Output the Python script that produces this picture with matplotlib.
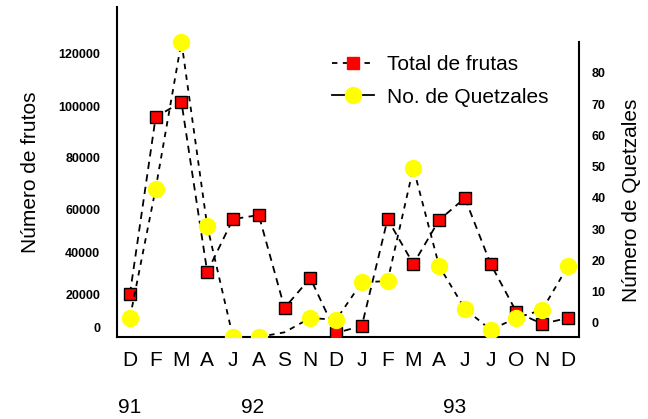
import numpy as np
import matplotlib
matplotlib.use('Agg')
import matplotlib.pyplot as plt
from matplotlib.lines import Line2D

plt.rcParams['font.family'] = ['Liberation Sans', 'DejaVu Sans']

# Month labels along the x axis (Dec 1991 - Dec 1993)
months = ['D', 'F', 'M', 'A', 'J', 'A', 'S', 'N', 'D',
          'J', 'F', 'M', 'A', 'J', 'J', 'O', 'N', 'D']
years = ['91', '92', '93']
year_pos = [0, 4.75, 12.6]

# Total de frutas (left axis)
frutas = [20000, 95700, 101500, 30500, 55300, 57200, 11800, 27600, -2900,
          1200, 55300, 34300, 54900, 64200, 34300, 9400, 2400, 5900]
# No. de Quetzales (right axis)
quetzales = [1.6, 43, 90, 31, -4.5, -4.5, -3, 1.6, 1.0,
             13, 13.4, 49.6, 18.2, 4.5, -2.2, 1.6, 4.2, 18.2]
quetzal_markers = [0, 1, 2, 3, 4, 5, 7, 8, 9, 10, 11, 12, 13, 14, 15, 16, 17]

# left axis tick values and the uneven spacing they have in the original
left_ticks = [0, 20000, 40000, 60000, 80000, 100000, 120000]
left_heights = [0, 34, 76, 119, 171, 222, 275]
right_ticks = [0, 10, 20, 30, 40, 50, 60, 70, 80]

tv = [-20000] + left_ticks + [140000]
th = [-34] + left_heights + [328]


def fwd(v):
    return np.interp(v, tv, th)


def inv(h):
    return np.interp(h, th, tv)


x = np.arange(len(months))

fig = plt.figure(figsize=(6.48, 4.19), dpi=100)
ax = fig.add_axes([0.1806, 0.1957, 0.7130, 0.7876])
ax.set_yscale('function', functions=(fwd, inv))

ax.plot(x, frutas, color='black', lw=1.3, ls=(0, (4, 3)),
        marker='s', ms=9, mfc='red', mec='black', mew=1, zorder=3)

ax.set_xlim(-0.5, 17.43)
ax.set_ylim(-5300, 137400)
ax.set_yticks(left_ticks)
ax.set_yticklabels([str(v) for v in left_ticks])
ax.set_xticks(x)
ax.set_xticklabels(months)
ax.tick_params(axis='y', length=0, pad=12, labelsize=9)
ax.tick_params(axis='x', length=0, pad=10, labelsize=15)
for lab in ax.get_yticklabels():
    lab.set_fontweight('bold')
ax.spines['top'].set_visible(False)
ax.spines['right'].set_visible(False)
ax.spines['left'].set_linewidth(1.5)
ax.spines['bottom'].set_linewidth(1.5)
ax.set_ylabel('Número de frutos', fontsize=15, labelpad=13)

for yr, p in zip(years, year_pos):
    ax.text(p, -0.215, yr, transform=ax.get_xaxis_transform(),
            ha='center', va='center', fontsize=15)

ax2 = ax.twinx()
ax2.plot(x, quetzales, color='black', lw=1.3, ls=(0, (3, 3)),
         marker='o', ms=11.5, mfc='yellow', mec='yellow',
         markevery=quetzal_markers, zorder=3)
ax2.set_ylim(-4.5, 101.1)
ax2.set_yticks(right_ticks)
ax2.tick_params(axis='y', length=0, pad=9, labelsize=9)
for lab in ax2.get_yticklabels():
    lab.set_fontweight('bold')
for s in ['top', 'left', 'bottom']:
    ax2.spines[s].set_visible(False)
ax2.spines['right'].set_linewidth(1.5)
ax2.spines['right'].set_bounds(-4.5, 90)
ax2.set_ylabel('Número de Quetzales', fontsize=15)
ax2.yaxis.set_label_coords(1.093, 0.415)

handles = [
    Line2D([], [], color='black', lw=1.3, ls=(0, (3, 3)),
           marker='s', ms=9, mfc='red', mec='red'),
    Line2D([], [], color='black', lw=1.3, ls='-',
           marker='o', ms=11.5, mfc='yellow', mec='yellow'),
]
fig.legend(handles, ['Total de frutas', 'No. de Quetzales'],
           loc='upper left', bbox_to_anchor=(0.497, 0.893),
           frameon=False, fontsize=15, handlelength=2.0,
           handletextpad=0.6, labelspacing=0.65, borderpad=0)

fig.savefig('out.png', dpi=100)
